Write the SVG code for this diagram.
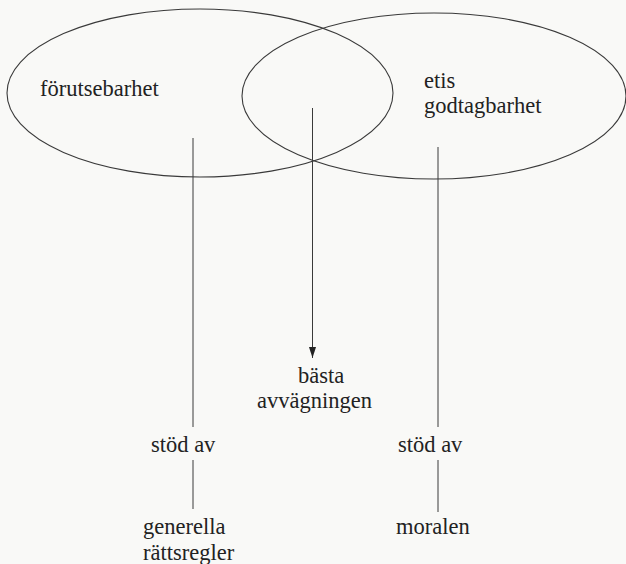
<svg xmlns="http://www.w3.org/2000/svg" width="626" height="564" viewBox="0 0 626 564">
  <style>
    .shape { fill: none; stroke: #3a3a3a; stroke-width: 1.1; }
    .link { fill: none; stroke: #3a3a3a; stroke-width: 1; }
    .lbl { font-family: "Liberation Serif", "Times New Roman", serif; font-size: 22.5px; fill: #222; }
  </style>
  <defs>
    <!-- arrowhead drawn along +x; orient="auto" turns it to the line direction -->
    <marker id="arrowhead" markerWidth="11" markerHeight="7" refX="11" refY="3.5" orient="auto" markerUnits="userSpaceOnUse" viewBox="0 0 11 7">
      <path d="M0,0 L11,3.5 L0,7 Z" fill="#222"/>
    </marker>
  </defs>
  <rect width="626" height="564" fill="#f9f9f7"/>

  <g id="forutsebarhet">
    <ellipse class="shape" cx="200" cy="93" rx="193" ry="84"/>
    <text class="lbl" x="40" y="96">förutsebarhet</text>
  </g>

  <g id="etisk-godtagbarhet">
    <ellipse class="shape" cx="434" cy="96" rx="192" ry="83"/>
    <text class="lbl" x="424" y="88">etis</text>
    <text class="lbl" x="424" y="113">godtagbarhet</text>
  </g>

  <g id="basta-avvagningen">
    <text class="lbl" x="298" y="383">bästa</text>
    <text class="lbl" x="257" y="408">avvägningen</text>
  </g>

  <g id="stod-av-vanster">
    <text class="lbl" x="151" y="452">stöd av</text>
  </g>

  <g id="stod-av-hoger">
    <text class="lbl" x="398" y="452">stöd av</text>
  </g>

  <g id="generella-rattsregler">
    <text class="lbl" x="143" y="534">generella</text>
    <text class="lbl" x="143" y="560">rättsregler</text>
  </g>

  <g id="moralen">
    <text class="lbl" x="396" y="534">moralen</text>
  </g>

  <g id="connectors">
    <line class="link" x1="193" y1="138" x2="193" y2="427"/>
    <line class="link" x1="193" y1="460" x2="193" y2="509"/>
    <line class="link" x1="438" y1="147" x2="438" y2="427"/>
    <line class="link" x1="438" y1="460" x2="438" y2="512"/>
    <line class="link" x1="312.5" y1="108" x2="312.5" y2="358" marker-end="url(#arrowhead)"/>
  </g>
</svg>
